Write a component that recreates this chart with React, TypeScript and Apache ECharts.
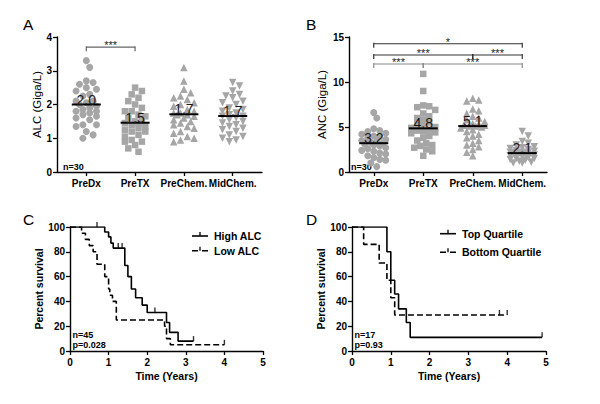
import React, { useEffect, useRef } from "react";
import * as echarts from "echarts";

const FONT = "'Liberation Sans', Arial, Helvetica, sans-serif";

// ---------- Panels A & B : categories ----------
const categories = ["PreDx", "PreTX", "PreChem.", "MidChem."];

// ---------- Panel A : ALC (Giga/L) ----------
const alcPreDx = [3.3, 3.1, 2.7, 2.65, 2.6, 2.5, 2.45, 2.4, 2.3, 2.25, 2.1, 2.1, 2.05, 2.0, 1.95, 1.9, 1.85, 1.8, 1.8, 1.75, 1.7, 1.65, 1.6, 1.55, 1.4, 1.4, 1.35, 1.2, 1.1, 1.0];
const alcPreTX = [2.5, 2.4, 2.3, 2.2, 2.1, 2.0, 1.9, 1.8, 1.8, 1.7, 1.65, 1.6, 1.5, 1.5, 1.45, 1.45, 1.4, 1.35, 1.3, 1.25, 1.2, 1.2, 1.1, 1.05, 0.95, 0.9, 0.9, 0.8, 0.7, 0.6];
const alcPreChem = [3.1, 2.7, 2.45, 2.35, 2.25, 2.2, 2.15, 2.05, 2.0, 1.95, 1.85, 1.8, 1.75, 1.75, 1.7, 1.7, 1.65, 1.6, 1.55, 1.5, 1.45, 1.4, 1.35, 1.3, 1.2, 1.15, 1.05, 1.0, 0.95, 0.9];
const alcMidChem = [2.65, 2.55, 2.4, 2.3, 2.25, 2.2, 2.1, 2.05, 2.0, 1.9, 1.85, 1.8, 1.75, 1.7, 1.65, 1.65, 1.6, 1.55, 1.5, 1.45, 1.4, 1.35, 1.3, 1.25, 1.2, 1.1, 1.05, 1.0, 0.95, 0.9];
const alcMedians = [2.0, 1.46, 1.71, 1.66];
const alcMedianLabels = ["2.0", "1.5", "1.7", "1.7"];
const alcBrackets: [number, number, number][] = [[1, 2, 3.7]];
const alcBracketLabels = ["***"];

// ---------- Panel B : ANC (Giga/L) ----------
const ancPreDx = [6.6, 6.0, 4.8, 4.6, 4.5, 4.3, 4.2, 4.0, 3.9, 3.8, 3.6, 3.5, 3.4, 3.3, 3.2, 3.1, 3.0, 2.9, 2.7, 2.6, 2.4, 2.3, 2.1, 2.0, 1.8, 1.6, 1.4, 1.3, 1.0, 0.6];
const ancPreTX = [10.9, 9.0, 7.4, 7.3, 7.2, 6.9, 6.5, 6.2, 6.0, 5.8, 5.5, 5.3, 5.1, 5.0, 4.9, 4.7, 4.6, 4.5, 4.4, 4.3, 4.0, 3.8, 3.5, 3.2, 3.0, 2.9, 2.7, 2.5, 2.3, 1.8];
const ancPreChem = [8.2, 8.0, 7.9, 7.0, 6.8, 6.5, 6.2, 6.0, 5.8, 5.6, 5.4, 5.3, 5.2, 5.2, 5.1, 5.1, 5.0, 4.9, 4.7, 4.5, 4.2, 4.0, 3.8, 3.5, 3.2, 3.0, 2.8, 2.5, 2.2, 1.8];
const ancMidChem = [4.5, 4.0, 3.4, 3.2, 3.0, 2.8, 2.7, 2.6, 2.5, 2.4, 2.3, 2.2, 2.2, 2.1, 2.1, 2.1, 2.0, 2.0, 1.9, 1.8, 1.7, 1.6, 1.5, 1.5, 1.4, 1.3, 1.2, 1.1, 1.0, 1.0];
const ancMedians = [3.2, 4.85, 5.1, 2.1];
const ancMedianLabels = ["3.2", "4.8", "5.1", "2.1"];
const ancBrackets: [number, number, number][] = [[1, 4, 14.25], [1, 3, 13], [3, 4, 13], [1, 2, 12], [2, 4, 12]];
const ancBracketLabels = ["*", "***", "***", "***", "***"];

// ---------- Panel C : Kaplan–Meier by ALC ----------
const highAlc: [number, number][] = [[0, 100], [0.9, 96], [1.0, 92], [1.06, 87], [1.12, 83], [1.42, 69], [1.5, 60], [1.59, 50], [1.7, 43], [1.87, 37], [2.0, 31], [2.5, 23], [2.58, 15], [2.8, 8], [3.2, 8]];
const highAlcCensor: [number, number][] = [[0.7, 100], [1.25, 83], [1.35, 83], [2.2, 31], [3.2, 8]];
const lowAlc: [number, number][] = [[0, 100], [0.3, 95], [0.4, 90], [0.5, 85], [0.6, 80], [0.7, 70], [0.9, 60], [1.0, 50], [1.03, 45], [1.1, 40], [1.2, 25], [2.45, 20], [2.5, 10], [2.6, 5], [4.0, 5]];
const lowAlcCensor: [number, number][] = [[4.0, 5]];

// ---------- Panel D : Kaplan–Meier by quartile ----------
const topQuartile: [number, number][] = [[0, 100], [0.9, 80], [1.0, 57], [1.1, 46], [1.2, 34], [1.4, 23], [1.5, 11], [4.9, 11]];
const topQuartileCensor: [number, number][] = [[4.9, 11]];
const bottomQuartile: [number, number][] = [[0, 100], [0.3, 86], [0.7, 71], [0.9, 57], [1.0, 43], [1.1, 29], [4.0, 29]];
const bottomQuartileCensor: [number, number][] = [[3.8, 29], [4.0, 29]];

// ---------------------------------------------------------------
// Deterministic beeswarm placement (pixel space) for a column of values
function swarm(values: number[], center: number, pxX: number, pxY: number, d: number, maxOff: number): number[][] {
  const placed: { x: number; y: number }[] = [];
  const out: number[][] = [];
  const sorted = [...values].sort((a, b) => b - a);
  const cands: number[] = [0];
  for (let k = 1; k * d * 0.5 <= maxOff; k++) {
    cands.push(k * d * 0.5, -k * d * 0.5);
  }
  for (const v of sorted) {
    const y = v * pxY;
    let chosen: number | null = null;
    let best = -1;
    let bestOff = 0;
    for (const off of cands) {
      let minD = Infinity;
      for (const p of placed) {
        const dd = Math.hypot(p.x - off, p.y - y);
        if (dd < minD) minD = dd;
      }
      if (minD >= d) { chosen = off; break; }
      if (minD > best) { best = minD; bestOff = off; }
    }
    if (chosen === null) chosen = bestOff;
    placed.push({ x: chosen, y });
    out.push([center + chosen / pxX, v]);
  }
  return out;
}

const GREY = "#a6a6a6";
const SYMBOLS = [
  { symbol: "circle", size: 7, rotate: 0 },
  { symbol: "rect", size: 6.5, rotate: 0 },
  { symbol: "triangle", size: 7.5, rotate: 0 },
  { symbol: "triangle", size: 7.5, rotate: 180 },
];

const axisLine = { show: true, onZero: false, lineStyle: { color: "#000", width: 1.4 } };
const axisTick = { show: true, length: 4, lineStyle: { color: "#000", width: 1.3 } };
const tickFont = { color: "#000", fontSize: 10, fontWeight: "bold" as const, fontFamily: FONT };

function scatterSeries(idx: number, groups: number[][], pxX: number, pxY: number, d: number, maxOff: number) {
  return groups.map((g, i) => ({
    type: "scatter",
    xAxisIndex: idx,
    yAxisIndex: idx,
    data: swarm(g, i + 1, pxX, pxY, d, maxOff),
    symbol: SYMBOLS[i].symbol,
    symbolSize: SYMBOLS[i].size,
    symbolRotate: SYMBOLS[i].rotate,
    itemStyle: { color: GREY, opacity: 1 },
    z: 2,
    silent: true,
  }));
}

function medianSeries(idx: number, medians: number[], labels: string[]) {
  return {
    type: "custom",
    xAxisIndex: idx,
    yAxisIndex: idx,
    z: 6,
    silent: true,
    itemStyle: { color: "#000" },
    data: medians.map((m, i) => [i + 1, m]),
    encode: { x: 0, y: 1 },
    renderItem: (params: any, api: any) => {
      const p = api.coord([api.value(0), api.value(1)]);
      return {
        type: "group",
        children: [
          { type: "line", shape: { x1: p[0] - 14.5, y1: p[1], x2: p[0] + 14.5, y2: p[1] }, style: { stroke: "#000", lineWidth: 2 } },
          {
            type: "text",
            x: p[0],
            y: p[1] - 5,
            style: {
              text: labels[params.dataIndex],
              fill: "#1a1a1a",
              font: `14px ${FONT}`,
              align: "center",
              verticalAlign: "middle",
              textAlign: "center",
              textVerticalAlign: "middle",
            },
          },
        ],
      };
    },
  };
}

function bracketSeries(idx: number, brackets: [number, number, number][], labels: string[], colorOf: (i: number) => string) {
  return {
    type: "custom",
    xAxisIndex: idx,
    yAxisIndex: idx,
    z: 5,
    silent: true,
    itemStyle: { color: "#333" },
    data: brackets.map((b) => [b[0], b[1], b[2]]),
    encode: { x: [0, 1], y: 2 },
    renderItem: (params: any, api: any) => {
      const a = api.coord([api.value(0), api.value(2)]);
      const b = api.coord([api.value(1), api.value(2)]);
      const col = colorOf(params.dataIndex);
      return {
        type: "group",
        children: [
          {
            type: "polyline",
            shape: { points: [[a[0], a[1] + 4], [a[0], a[1] - 1], [a[0], a[1]], [b[0], b[1]], [b[0], b[1] - 1], [b[0], b[1] + 4]] },
            style: { stroke: col, lineWidth: 1.2, fill: null },
          },
          {
            type: "text",
            x: (a[0] + b[0]) / 2,
            y: a[1] - 2,
            style: {
              text: labels[params.dataIndex],
              fill: "#222",
              font: `11px ${FONT}`,
              align: "center",
              verticalAlign: "middle",
              textAlign: "center",
              textVerticalAlign: "middle",
            },
          },
        ],
      };
    },
  };
}

function kmLine(idx: number, data: [number, number][], dashed: boolean) {
  return {
    type: "line",
    xAxisIndex: idx,
    yAxisIndex: idx,
    data,
    step: "end",
    symbol: "none",
    showSymbol: false,
    lineStyle: { color: "#000", width: 1.6, type: dashed ? [6, 3] : "solid" },
    z: 3,
    silent: true,
  };
}

function censorSeries(idx: number, data: [number, number][]) {
  return {
    type: "scatter",
    xAxisIndex: idx,
    yAxisIndex: idx,
    data,
    symbol: "rect",
    symbolSize: [1.4, 5],
    symbolOffset: [0, -2.5],
    itemStyle: { color: "#000" },
    z: 4,
    silent: true,
  };
}

function txt(text: string, x: number, y: number, size: number, bold: boolean, align = "left") {
  return {
    type: "text",
    x,
    y,
    style: {
      text,
      fill: "#000",
      font: `${bold ? "bold " : ""}${size}px ${FONT}`,
      align,
      verticalAlign: "middle",
      textAlign: align,
      textVerticalAlign: "middle",
    },
  };
}

function legendItem(x1: number, x2: number, y: number, dashed: boolean, label: string) {
  const mid = (x1 + x2) / 2;
  return [
    { type: "line", shape: { x1, y1: y, x2, y2: y }, style: { stroke: "#000", lineWidth: 1.6, lineDash: dashed ? [6, 4] : null } },
    { type: "line", shape: { x1: mid, y1: y - 4, x2: mid, y2: y }, style: { stroke: "#000", lineWidth: 1.3 } },
    txt(label, x2 + 6, y, 10.5, true),
  ];
}

function catXAxis(idx: number, min: number, max: number) {
  return {
    gridIndex: idx,
    type: "value",
    min,
    max,
    axisLine,
    axisTick: { ...axisTick, customValues: [1, 2, 3, 4] },
    axisLabel: { ...tickFont, margin: 6, customValues: [1, 2, 3, 4], formatter: (v: number) => categories[Math.round(v) - 1] || "" },
    splitLine: { show: false },
  };
}

function timeXAxis(idx: number) {
  return {
    gridIndex: idx,
    type: "value",
    min: 0,
    max: 5,
    interval: 1,
    name: "Time (Years)",
    nameLocation: "middle",
    nameGap: 19,
    nameTextStyle: { color: "#000", fontSize: 10.5, fontWeight: "bold", fontFamily: FONT },
    axisLine,
    axisTick,
    axisLabel: { ...tickFont, margin: 6 },
    splitLine: { show: false },
  };
}

function yAxis(idx: number, max: number, interval: number, name: string, gap: number, bold: boolean, size: number) {
  return {
    gridIndex: idx,
    type: "value",
    min: 0,
    max,
    interval,
    name,
    nameLocation: "middle",
    nameGap: gap,
    nameTextStyle: { color: "#000", fontSize: size, fontWeight: bold ? "bold" : "normal", fontFamily: FONT },
    axisLine,
    axisTick,
    axisLabel: { ...tickFont, margin: 5 },
    splitLine: { show: false },
  };
}

export default function App() {
  const ref = useRef<HTMLDivElement>(null);

  useEffect(() => {
    if (!ref.current) return;
    const chart = echarts.init(ref.current, null, { renderer: "svg" });

    const option: any = {
      animation: false,
      backgroundColor: "#fff",
      grid: [
        { left: 57, top: 37, width: 205, height: 135 },
        { left: 349, top: 37, width: 198, height: 135 },
        { left: 70, top: 227, width: 193, height: 124 },
        { left: 352, top: 227, width: 194, height: 124 },
      ],
      xAxis: [catXAxis(0, 0.4, 4.6), catXAxis(1, 0.5, 4.5), timeXAxis(2), timeXAxis(3)],
      yAxis: [
        yAxis(0, 4, 1, "ALC (Giga/L)", 12, false, 11.5),
        yAxis(1, 15, 5, "ANC (Giga/L)", 21, false, 11.5),
        yAxis(2, 100, 20, "Percent survival", 25, true, 10.5),
        yAxis(3, 100, 20, "Percent survival", 25, true, 10.5),
      ],
      series: [
        ...scatterSeries(0, [alcPreDx, alcPreTX, alcPreChem, alcMidChem], 48.8, 33.75, 6.8, 13),
        ...scatterSeries(1, [ancPreDx, ancPreTX, ancPreChem, ancMidChem], 49.5, 9, 6, 14),
        medianSeries(0, alcMedians, alcMedianLabels),
        medianSeries(1, ancMedians, ancMedianLabels),
        bracketSeries(0, alcBrackets, alcBracketLabels, () => "#666"),
        bracketSeries(1, ancBrackets, ancBracketLabels, (i) => (ancBrackets[i][2] < 12.5 ? "#8a8a8a" : "#333")),
        kmLine(2, highAlc, false),
        kmLine(2, lowAlc, true),
        censorSeries(2, highAlcCensor),
        censorSeries(2, lowAlcCensor),
        kmLine(3, topQuartile, false),
        kmLine(3, bottomQuartile, true),
        censorSeries(3, topQuartileCensor),
        censorSeries(3, bottomQuartileCensor),
      ],
      graphic: [
        txt("A", 23, 24.5, 15.5, false),
        txt("B", 306, 24.5, 15.5, false),
        txt("C", 23, 219, 15.5, false),
        txt("D", 306, 219, 15.5, false),
        txt("n=30", 63, 166.5, 9, true),
        txt("n=30", 351, 166.5, 9, true),
        txt("n=45", 72.5, 334.7, 9, true),
        txt("p=0.028", 72.5, 344.7, 9, true),
        txt("n=17", 354.5, 334.7, 9, true),
        txt("p=0.93", 354.5, 344.7, 9, true),
        ...legendItem(192, 208, 236, false, "High ALC"),
        ...legendItem(192, 208, 250.7, true, "Low ALC"),
        ...legendItem(440, 456, 233.7, false, "Top Quartile"),
        ...legendItem(440, 456, 252.3, true, "Bottom Quartile"),
      ],
    };

    chart.setOption(option);
    return () => chart.dispose();
  }, []);

  return (
    <div
      ref={ref}
      style={{ position: "absolute", left: 0, top: 0, width: 600, height: 404, background: "#fff" }}
    />
  );
}
